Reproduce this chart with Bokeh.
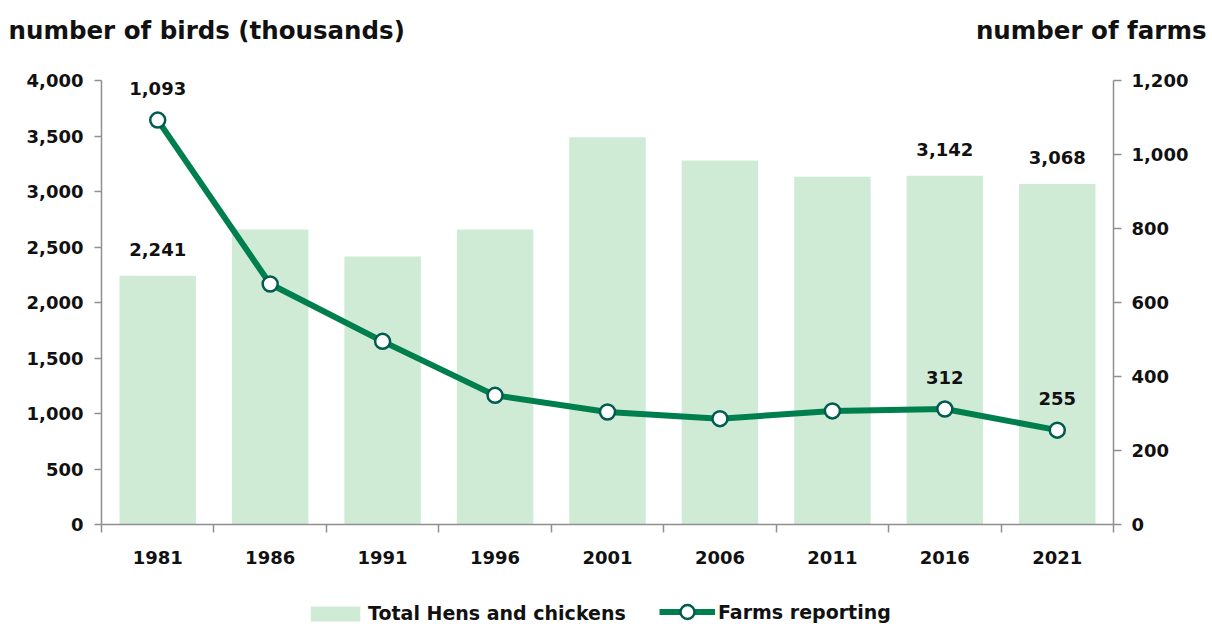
from bokeh.plotting import figure
from bokeh.layouts import column
from bokeh.models import (Range1d, LinearAxis, FixedTicker, NumeralTickFormatter,
                          ColumnDataSource, Legend, LegendItem, Label, SingleIntervalTicker)
from bokeh.core.properties import value
from bokeh.embed import file_html
from bokeh.resources import INLINE

years = ["1981", "1986", "1991", "1996", "2001", "2006", "2011", "2016", "2021"]
hens = [2241, 2658, 2414, 2658, 3488, 3279, 3133, 3142, 3068]
farms = [1093, 650, 495, 349, 304, 286, 307, 312, 255]
labelled = [0, 7, 8]
left_title = "number of birds (thousands)"
right_title = "number of farms"
bar_name = "Total Hens and chickens"
line_name = "Farms reporting"

BAR = "#d0ebd5"
LINE = "#007f4e"
EDGE = "#005c4e"
AXIS = "#8f8f8f"
INK = "#111111"
FONT = "DejaVu Sans"
W = 1212
TH = 48      # title strip height
PH = 532     # main chart height
LH = 628 - TH - PH  # legend strip height

xpos = [i + 0.5 for i in range(len(years))]

# ---------- title strip ----------
tfig = figure(width=W, height=TH, output_backend="svg", toolbar_location=None,
              x_axis_type=None, y_axis_type=None, min_border=0,
              x_range=Range1d(0, 1), y_range=Range1d(0, 1))
tfig.frame_align = False
tfig.outline_line_color = None
tfig.grid.visible = False
tfig.add_layout(Label(x=8, y=TH - 30, x_units="screen", y_units="screen", text=left_title,
                      text_font=FONT, text_font_style="bold", text_font_size="24.5px",
                      text_baseline="alphabetic", text_align="left", text_color=INK))
tfig.add_layout(Label(x=1206, y=TH - 30, x_units="screen", y_units="screen", text=right_title,
                      text_font=FONT, text_font_style="bold", text_font_size="24.5px",
                      text_baseline="alphabetic", text_align="right", text_color=INK))

# ---------- main chart ----------
p = figure(width=W, height=PH, output_backend="svg", toolbar_location=None,
           x_range=Range1d(0, len(years)), y_range=Range1d(0, 4000),
           min_border_left=101, min_border_right=99, min_border_top=80 - TH,
           min_border_bottom=TH + PH - 524)
p.outline_line_color = None
p.grid.visible = False
p.xaxis.visible = False
p.yaxis.visible = False
p.extra_y_ranges = {"farms": Range1d(0, 1200)}

bars = p.vbar(x=xpos, top=hens, width=0.68, fill_color=BAR, line_color=None)
ln = p.line(xpos, farms, y_range_name="farms", line_color=LINE, line_width=6)
pts = p.scatter(xpos, farms, y_range_name="farms", size=15, fill_color="white",
                line_color=EDGE, line_width=2.5)

bsrc = ColumnDataSource(dict(x=[xpos[i] for i in labelled], y=[hens[i] for i in labelled],
                             t=[f"{hens[i]:,}" for i in labelled]))
p.text(x="x", y="y", text="t", source=bsrc, y_offset=-26, text_align="center",
       text_baseline="middle", text_font=value(FONT), text_font_style="bold",
       text_font_size="18px", text_color=INK)
lsrc = ColumnDataSource(dict(x=[xpos[i] for i in labelled], y=[farms[i] for i in labelled],
                             t=[f"{farms[i]:,}" for i in labelled]))
p.text(x="x", y="y", text="t", source=lsrc, y_range_name="farms", y_offset=-32,
       text_align="center", text_baseline="middle", text_font=value(FONT),
       text_font_style="bold", text_font_size="18px", text_color=INK)

def style_axis(ax):
    ax.axis_line_color = AXIS
    ax.axis_line_width = 1.5
    ax.major_tick_line_color = AXIS
    ax.major_tick_line_width = 1.5
    ax.minor_tick_line_color = AXIS
    ax.minor_tick_line_width = 1.5
    ax.major_label_text_font = FONT
    ax.major_label_text_font_style = "bold"
    ax.major_label_text_font_size = "18px"
    ax.major_label_text_color = INK

yl = LinearAxis(ticker=SingleIntervalTicker(interval=500, num_minor_ticks=0),
                formatter=NumeralTickFormatter(format="0,0"))
style_axis(yl)
yl.major_tick_in = 0
yl.major_tick_out = 7
yl.minor_tick_out = 0
yl.major_label_standoff = 11
p.add_layout(yl, "left")

yr = LinearAxis(y_range_name="farms", ticker=SingleIntervalTicker(interval=200, num_minor_ticks=0),
                formatter=NumeralTickFormatter(format="0,0"))
style_axis(yr)
yr.major_tick_in = 0
yr.major_tick_out = 8
yr.minor_tick_out = 0
yr.major_label_standoff = 10
p.add_layout(yr, "right")

xa = LinearAxis(ticker=FixedTicker(ticks=xpos, minor_ticks=list(range(len(years) + 1))))
style_axis(xa)
xa.major_label_overrides = {x: y for x, y in zip(xpos, years)}
xa.major_tick_in = 0
xa.major_tick_out = 0
xa.minor_tick_in = 0
xa.minor_tick_out = 8
xa.major_label_standoff = 18
p.add_layout(xa, "below")

# ---------- legend strip ----------
# renderers carry the same series but lie outside this strip's ranges (clipped away),
# so only their legend swatches show
lfig = figure(width=W, height=LH, output_backend="svg", toolbar_location=None,
              x_axis_type=None, y_axis_type=None, min_border=0,
              x_range=Range1d(-30, -20), y_range=Range1d(-2, -1))
lfig.frame_align = False
lfig.outline_line_color = None
lfig.grid.visible = False
lb = lfig.vbar(x=xpos, top=hens, width=0.68, fill_color=BAR, line_color=None)
ll = lfig.line(xpos, farms, line_color=LINE, line_width=6)
lp = lfig.scatter(xpos, farms, size=15, fill_color="white", line_color=EDGE, line_width=2.5)

common = dict(orientation="horizontal", margin=0, border_line_color=None,
              background_fill_alpha=0, label_text_font=FONT, label_text_font_style="bold",
              label_text_font_size="19px", label_text_color=INK)
legend1 = Legend(items=[LegendItem(label=bar_name, renderers=[lb])],
                 location=(304, 4), glyph_width=62, glyph_height=19, label_standoff=2,
                 padding=3, **common)
legend2 = Legend(items=[LegendItem(label=line_name, renderers=[ll, lp])],
                 location=(659, -1), glyph_width=56, glyph_height=35, label_standoff=3,
                 padding=0, **common)
lfig.add_layout(legend1, "center")
lfig.add_layout(legend2, "center")

layout = column(tfig, p, lfig, spacing=0)
open("out.html", "w").write(file_html(layout, INLINE))
